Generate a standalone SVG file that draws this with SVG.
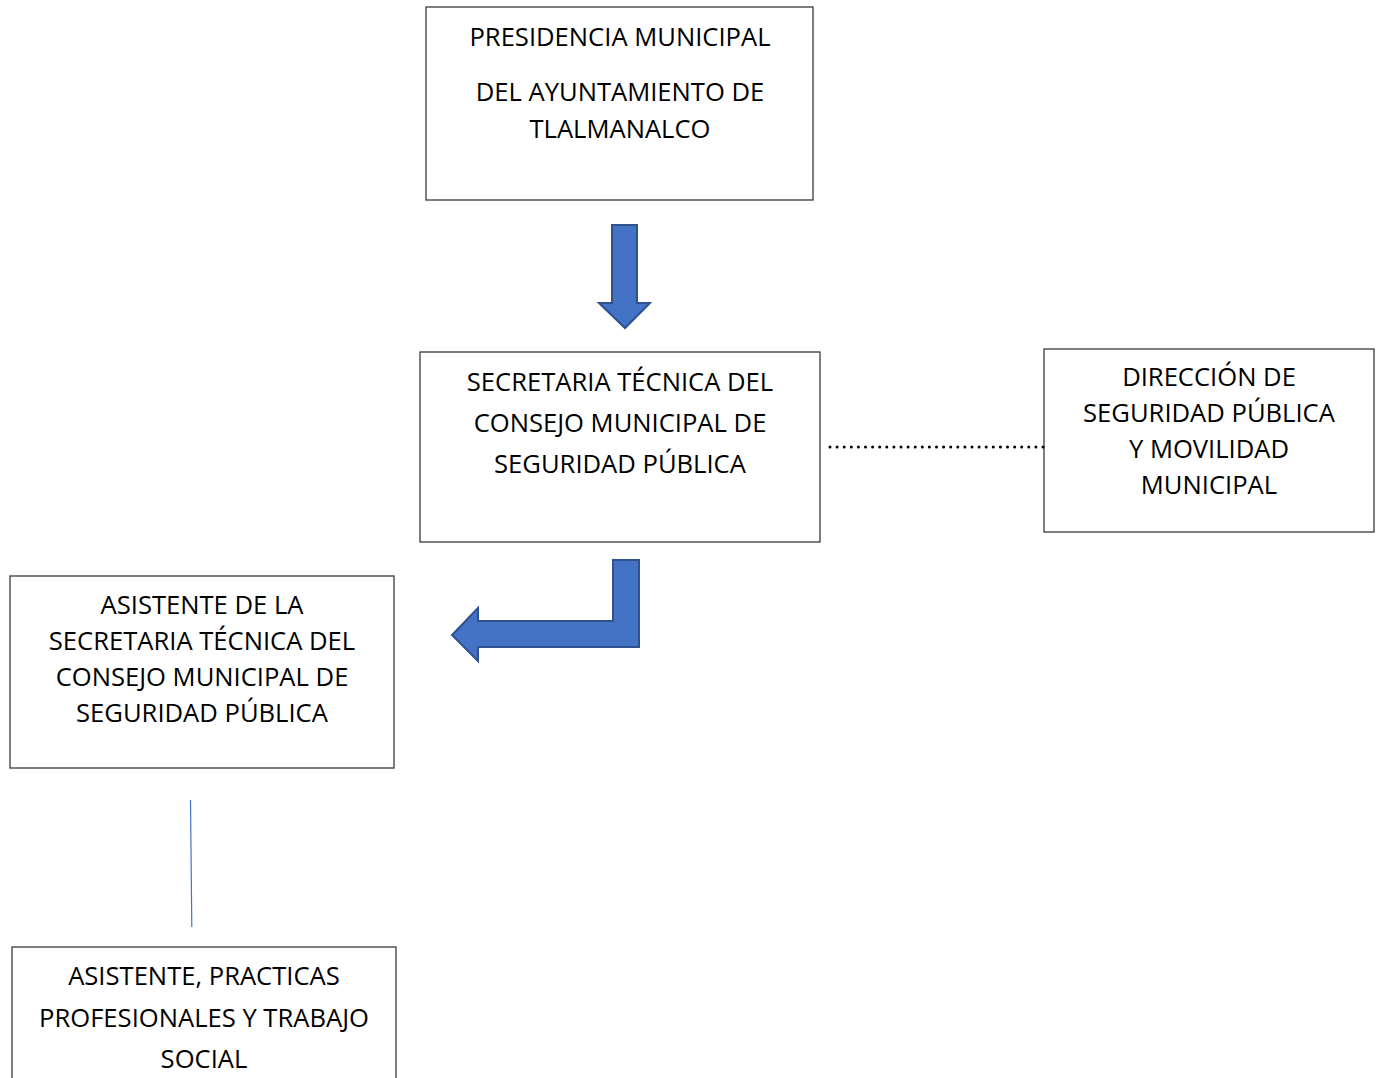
<svg xmlns="http://www.w3.org/2000/svg" width="1381" height="1078" viewBox="0 0 1381 1078">
<style>
.box{fill:#fff;stroke:#3a3a3a;stroke-width:1.3}
.t{font-family:"Open Sans","Noto Sans",sans-serif;font-size:25.6px;fill:#000;text-anchor:middle}
.arr{fill:#4472C4;stroke:#2F528F;stroke-width:2;stroke-linejoin:miter}
</style>
<rect width="1381" height="1078" fill="#fff"/>
<g id="presidencia">
<rect class="box" x="426" y="7" width="387" height="193"/>
<text class="t" x="620" y="46">PRESIDENCIA MUNICIPAL</text>
<text class="t" x="620" y="101">DEL AYUNTAMIENTO DE</text>
<text class="t" x="620" y="138">TLALMANALCO</text>
</g>
<g id="secretaria">
<rect class="box" x="420" y="352" width="400" height="190"/>
<text class="t" x="620" y="391">SECRETARIA TÉCNICA DEL</text>
<text class="t" x="620" y="432">CONSEJO MUNICIPAL DE</text>
<text class="t" x="620" y="473">SEGURIDAD PÚBLICA</text>
</g>
<g id="direccion">
<rect class="box" x="1044" y="349" width="330" height="183"/>
<text class="t" x="1209" y="386">DIRECCIÓN DE</text>
<text class="t" x="1209" y="422">SEGURIDAD PÚBLICA</text>
<text class="t" x="1209" y="458">Y MOVILIDAD</text>
<text class="t" x="1209" y="494">MUNICIPAL</text>
</g>
<g id="asistente">
<rect class="box" x="10" y="576" width="384" height="192"/>
<text class="t" x="202" y="614">ASISTENTE DE LA</text>
<text class="t" x="202" y="650">SECRETARIA TÉCNICA DEL</text>
<text class="t" x="202" y="686">CONSEJO MUNICIPAL DE</text>
<text class="t" x="202" y="722">SEGURIDAD PÚBLICA</text>
</g>
<g id="practicas">
<rect class="box" x="12" y="947" width="384" height="140"/>
<text class="t" x="204" y="985">ASISTENTE, PRACTICAS</text>
<text class="t" x="204" y="1027">PROFESIONALES Y TRABAJO</text>
<text class="t" x="204" y="1068">SOCIAL</text>
</g>
<g id="connectors">
<path class="arr" d="M612,225 H637 V303 H650 L625,328 L599,303 H612 Z"/>
<path class="arr" d="M613,560 H639 V647 H478 V661 L452,635 L478,608 V621 H613 Z"/>
<line x1="830" y1="447" x2="1043" y2="447" stroke="#000" stroke-width="3" stroke-linecap="round" stroke-dasharray="0 7.1"/>
<line x1="190.5" y1="800" x2="191.8" y2="927" stroke="#4472C4" stroke-width="1.2"/>
</g>
</svg>
